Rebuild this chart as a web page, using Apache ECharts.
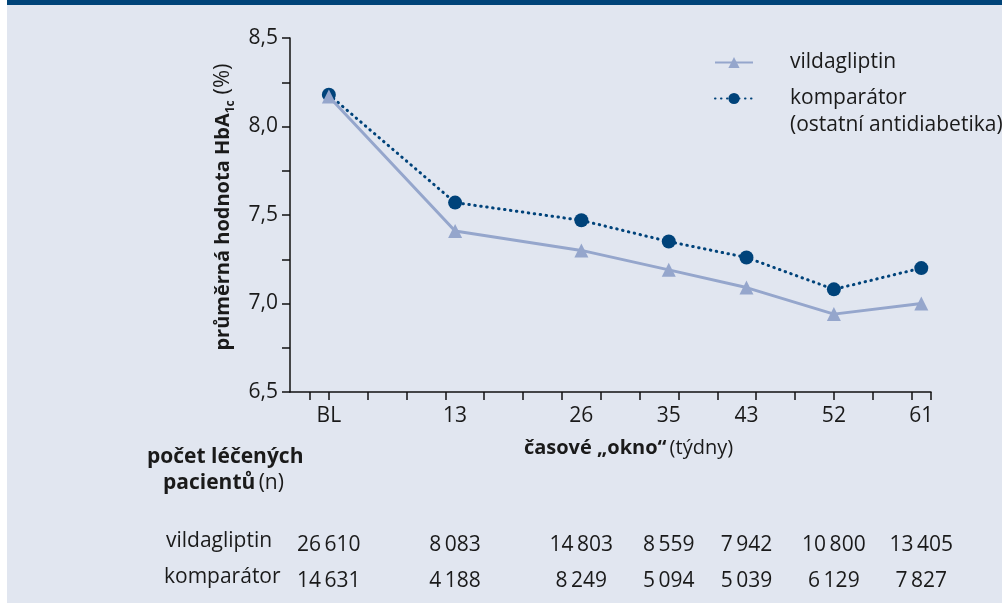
<!DOCTYPE html>
<html>
<head>
<meta charset="utf-8">
<script src="https://cdn.jsdelivr.net/npm/echarts@6/dist/echarts.min.js"></script>
<style>
  html, body { margin: 0; background: #fff; }
  #chart { width: 1002px; height: 603px; }
</style>
</head>
<body>
<div id="chart"></div>
<script>
// týdny (BL = 0)
const weeks = [0, 13, 26, 35, 43, 52, 61];
// průměrná HbA1c (%)
const vildagliptin = [8.17, 7.41, 7.30, 7.19, 7.09, 6.94, 7.00];
const komparator = [8.18, 7.57, 7.47, 7.35, 7.26, 7.08, 7.20];
// počet léčených pacientů
const vildN = [26610, 8083, 14803, 8559, 7942, 10800, 13405];
const kompN = [14631, 4188, 8249, 5094, 5039, 6129, 7827];
// dílky na ose x
const xTicks = [-2, 0, 4, 8, 12, 16, 20, 24, 28, 32, 36, 40, 44, 48, 52, 56, 60, 62];

const FONT = "'Open Sans', sans-serif";
const DARK = '#00437a';
const LIGHT = '#95a6cc';
const BG = '#e1e6f0';
const INK = '#1a1a1a';
const FS = 21;

const fmtN = n => String(n).replace(/\B(?=(\d{3})+(?!\d))/g, '\u2009');

const chart = echarts.init(document.getElementById('chart'));

// pomocná osa x pro řádek tabulky
const countAxis = (counts, offset) => ({
  type: 'value',
  min: -4,
  max: 62,
  position: 'bottom',
  offset: offset,
  axisLine: { show: false },
  axisTick: { show: false },
  splitLine: { show: false },
  axisLabel: {
    customValues: weeks,
    margin: 0,
    color: INK,
    fontFamily: FONT,
    fontSize: FS,
    verticalAlign: 'middle',
    formatter: v => fmtN(counts[weeks.indexOf(v)])
  }
});

const option = {
  backgroundColor: '#fff',
  animation: false,
  textStyle: { fontFamily: FONT },
  grid: { left: 290, right: 71, top: 38, bottom: 211, containLabel: false },
  legend: {
    data: ['vildagliptin', 'komparátor'],
    orient: 'vertical',
    left: 709,
    top: 47,
    itemWidth: 38,
    itemHeight: 14,
    itemGap: 15,
    textStyle: { fontSize: FS, color: INK, padding: [0, 0, 0, 32] }
  },
  xAxis: [
    {
      type: 'value',
      min: -4,
      max: 62,
      axisLine: { onZero: false, lineStyle: { color: '#111', width: 1.5 } },
      axisTick: { customValues: xTicks, length: 8, lineStyle: { color: '#111', width: 1.5 } },
      splitLine: { show: false },
      axisLabel: {
        customValues: weeks,
        margin: 14,
        color: INK,
        fontSize: FS,
        formatter: v => (v === 0 ? 'BL' : String(v))
      },
      name: '{b|časové „okno“} {r|(týdny)}',
      nameLocation: 'middle',
      nameGap: 56,
      nameTextStyle: {
        padding: [0, 0, 0, 36],
        verticalAlign: 'middle',
        rich: {
          b: { fontSize: 20, fontWeight: 'bold', color: INK, fontFamily: FONT },
          r: { fontSize: 20, color: INK, fontFamily: FONT }
        }
      }
    },
    countAxis(vildN, 153),
    countAxis(kompN, 189)
  ],
  yAxis: {
    type: 'value',
    min: 6.5,
    max: 8.5,
    interval: 0.5,
    axisLine: { show: true, onZero: false, lineStyle: { color: '#111', width: 1.5 } },
    axisTick: { show: true, length: 8, lineStyle: { color: '#111', width: 1.5 } },
    minorTick: { show: true, splitNumber: 2, length: 8, lineStyle: { color: '#111', width: 1.5 } },
    splitLine: { show: false },
    axisLabel: {
      margin: 12,
      color: INK,
      fontSize: FS,
      formatter: v => v.toFixed(1).replace('.', ',')
    },
    name: '{b|průměrná hodnota HbA}{s|1c}{r| (%)}',
    nameLocation: 'middle',
    nameGap: 53,
    nameTextStyle: {
      padding: [0, 0, 0, 16],
      rich: {
        b: { fontSize: 20, fontWeight: 'bold', color: INK, fontFamily: FONT, lineHeight: 28 },
        s: { fontSize: 12, fontWeight: 'bold', color: INK, fontFamily: FONT, lineHeight: 28, verticalAlign: 'bottom' },
        r: { fontSize: 22, color: INK, fontFamily: FONT, lineHeight: 28 }
      }
    }
  },
  graphic: [
    { type: 'rect', z: -10, shape: { x: 7, y: 0, width: 995, height: 603 }, style: { fill: BG } },
    { type: 'rect', z: -9, shape: { x: 7, y: 0, width: 995, height: 5 }, style: { fill: '#004479' } },
    {
      type: 'text', left: 790, top: 115,
      style: { text: '(ostatní antidiabetika)', font: FS + "px 'Open Sans', sans-serif", fill: INK }
    },
    {
      type: 'text', left: 147, top: 447,
      style: { text: 'počet léčených', font: "bold " + FS + "px 'Open Sans', sans-serif", fill: INK }
    },
    {
      type: 'text', left: 163, top: 473,
      style: {
        text: '{b|pacientů} {r|(n)}',
        rich: {
          b: { font: "bold " + FS + "px 'Open Sans', sans-serif", fill: INK },
          r: { font: FS + "px 'Open Sans', sans-serif", fill: INK }
        }
      }
    },
    {
      type: 'text', left: 166, top: 531,
      style: { text: 'vildagliptin', font: FS + "px 'Open Sans', sans-serif", fill: INK }
    },
    {
      type: 'text', left: 164, top: 567,
      style: { text: 'komparátor', font: FS + "px 'Open Sans', sans-serif", fill: INK }
    }
  ],
  series: [
    {
      name: 'komparátor',
      type: 'line',
      data: weeks.map((w, i) => [w, komparator[i]]),
      symbol: 'circle',
      symbolSize: 14,
      itemStyle: { color: DARK },
      lineStyle: { color: DARK, width: 3, type: [0.5, 5.5], cap: 'round' }
    },
    {
      name: 'vildagliptin',
      type: 'line',
      data: weeks.map((w, i) => [w, vildagliptin[i]]),
      symbol: 'triangle',
      symbolSize: 14,
      itemStyle: { color: LIGHT },
      lineStyle: { color: LIGHT, width: 3 }
    }
  ]
};

chart.setOption(option);
</script>
</body>
</html>
